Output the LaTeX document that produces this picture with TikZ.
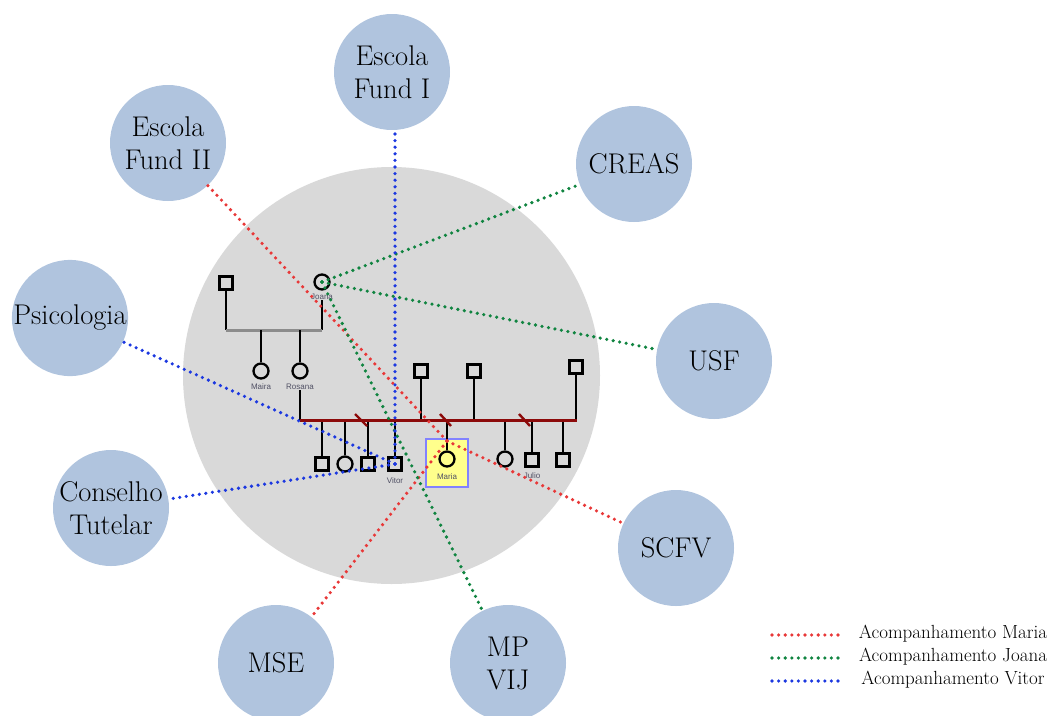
\documentclass[tikz,border=0pt]{standalone}
\usepackage{fontspec}
\setsansfont{Liberation Sans}
\definecolor{steel}{RGB}{176,196,222}
\definecolor{bggray}{RGB}{217,217,217}
\definecolor{maroonl}{RGB}{140,10,10}
\definecolor{dred}{RGB}{232,56,56}
\definecolor{dgreen}{RGB}{16,132,64}
\definecolor{dblue}{RGB}{28,56,224}
\definecolor{yellowbox}{RGB}{255,255,140}
\definecolor{boxblue}{RGB}{130,130,255}
\definecolor{lblgray}{RGB}{80,80,100}
\definecolor{glgray}{RGB}{140,140,140}
\begin{document}
\begin{tikzpicture}[x=1pt,y=-1pt,
  agency/.style={circle,fill=steel,minimum size=116pt,inner sep=0pt,align=center,font=\fontsize{28.5}{33}\selectfont},
  msq/.style={draw,line width=2.3pt,minimum size=13pt,inner sep=0pt},
  fcirc/.style={draw,circle,line width=2.3pt,minimum size=15pt,inner sep=0pt},
  gline/.style={line width=2.6pt},
  mline/.style={line width=3pt,color=maroonl},
  lbl/.style={font=\sffamily\fontsize{8}{9}\selectfont,text=lblgray,inner sep=0.5pt},
  dots/.style={line width=3.6pt,line cap=round,dash pattern=on 0pt off 6.6pt},
  legtext/.style={font=\fontsize{19}{22}\selectfont,inner sep=0pt},
]
\useasboundingbox (0,0) rectangle (1052,715);
\fill[bggray] (391.5,375.5) circle (208.5pt);

% agencies
\node[agency] (ef1) at (392,72) {Escola\\Fund I};
\node[agency] (ef2) at (168,143) {Escola\\Fund II};
\node[agency] (creas) at (634,164) {CREAS};
\node[agency] (psi) at (70,318) {Psicologia};
\node[agency] (usf) at (714,361) {USF};
\node[agency] (ct) at (111,508) {Conselho\\Tutelar};
\node[agency] (scfv) at (676,548) {SCFV};
\node[agency] (mse) at (276,663) {MSE};
\node[agency] (mp) at (508,663) {MP\\VIJ};

% genogram top generation
\node[msq] (gf) at (226,283) {};
\node[fcirc] (jo) at (322,282) {};
\node[lbl] (jol) at (322,297) {Joana};
\coordinate (glL) at (226,330);
\coordinate (glR) at (322,330);
\draw[gline] (gf.south) -- (glL);
\draw[gline] (jol.south) -- (glR);
\draw[line width=3pt,glgray] (glL) -- (glR);
\node[fcirc] (mai) at (261,371) {};
\node[fcirc] (ros) at (300,371) {};
\node[lbl] (mail) at (261,387) {Maira};
\node[lbl] (rosl) at (300,387) {Rosana};
\draw[gline] (mai.north) -- (mai.north |- glL);
\draw[gline] (ros.north) -- (ros.north |- glL);

% second line
\coordinate (rl) at (300,420);
\coordinate (rr) at (577,420);
\draw[gline] (rosl.south) -- (rl);
\node[msq] (f1) at (421,371) {};
\node[msq] (f2) at (474,371) {};
\node[msq] (f3) at (576,367) {};
\foreach \n in {f1,f2,f3} \draw[gline] (\n.south) -- (\n.south |- rl);

% Maria box
\node[draw=boxblue,fill=yellowbox,line width=2.4pt,minimum width=42pt,minimum height=48pt,inner sep=0pt] (mbox) at (447,463) {};

% children
\node[msq] (c1) at (322,464) {};
\node[fcirc] (c2) at (345,464) {};
\node[msq] (c3) at (368,464) {};
\node[msq] (vi) at (395,464) {};
\node[fcirc] (ma) at (447,459) {};
\node[fcirc] (c6) at (505,459) {};
\node[msq] (ju) at (532,460) {};
\node[msq] (c8) at (563,460) {};
\foreach \n in {c1,c2,c3,vi,ma,c6,ju,c8} \draw[gline] (\n.north) -- (\n.north |- rl);
\draw[mline] (rl) -- (rr);
\draw[maroonl,line width=2.4pt] (355,414) -- (367,426);
\draw[maroonl,line width=2.4pt] (440,414) -- (451,426);
\draw[maroonl,line width=2.4pt] (519,414) -- (530,426);
\node[lbl] (vil) at (395,481) {Vitor};
\node[lbl] (mal) at (447,477) {Maria};
\node[lbl] (jul) at (532,476) {Julio};

% connections
\coordinate (mh) at (447,441);
\draw[dots,dred] (mh) -- (ef2);
\draw[dots,dred] (mh) -- (scfv);
\draw[dots,dred] (mh) -- (mse);
\draw[dots,dgreen] (jo.center) -- (creas);
\draw[dots,dgreen] (jo.center) -- (usf);
\draw[dots,dgreen] (jo.center) -- (mp);
\draw[dots,dblue] (vi.center) -- (vi.center |- ef1.south);
\draw[dots,dblue] (vi.center) -- (psi);
\draw[dots,dblue] (vi.center) -- (ct);

% legend
\coordinate (lm1) at (772,635); \coordinate (lm2) at (838,635);
\coordinate (lj1) at (772,658); \coordinate (lj2) at (838,658);
\coordinate (lv1) at (772,681); \coordinate (lv2) at (838,681);
\draw[dots,dred] (lm1) -- (lm2);
\draw[dots,dgreen] (lj1) -- (lj2);
\draw[dots,dblue] (lv1) -- (lv2);
\node[legtext] (tm) at (953,634) {Acompanhamento Maria};
\node[legtext] (tj) at (953,657) {Acompanhamento Joana};
\node[legtext] (tv) at (953,680) {Acompanhamento Vitor};
\end{tikzpicture}
\end{document}
